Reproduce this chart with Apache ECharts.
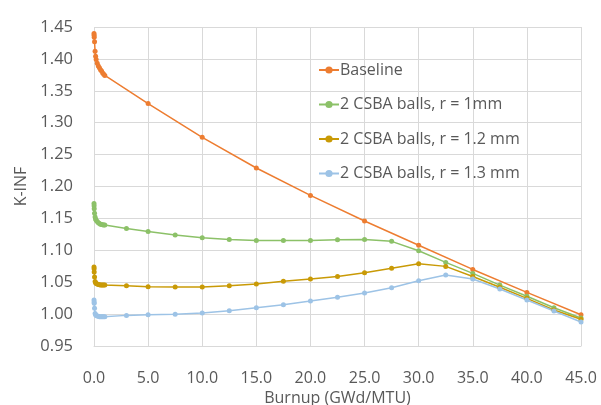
<!DOCTYPE html>
<html>
<head>
<meta charset="utf-8">
<script src="https://cdn.jsdelivr.net/npm/echarts@6/dist/echarts.min.js"></script>
<style>
  html, body { margin: 0; padding: 0; background: #fff; }
  #chart { width: 601px; height: 405px; }
</style>
</head>
<body>
<div id="chart"></div>
<script>
// burnup steps (GWd/MTU)
var earlyBurnup = [0, 0.01, 0.02, 0.05, 0.1, 0.15, 0.2, 0.3, 0.4, 0.5, 0.6, 0.7, 0.8, 0.9, 1.0]
var baseBurnup = [5, 10, 15, 20, 25, 30, 35, 40, 45]
var csbaBurnup = [3, 5, 7.5, 10, 12.5, 15, 17.5, 20, 22.5, 25, 27.5, 30, 32.5, 35, 37.5, 40, 42.5, 45]

// k-inf values
var baselineEarly = [1.440, 1.437, 1.434, 1.427, 1.412, 1.404, 1.399, 1.393, 1.389, 1.386, 1.383, 1.381, 1.378, 1.376, 1.374]
var baselineLate = [1.330, 1.277, 1.229, 1.186, 1.146, 1.108, 1.070, 1.034, 0.999]

var r10Early = [1.1735, 1.170, 1.165, 1.158, 1.152, 1.149, 1.147, 1.145, 1.143, 1.142, 1.141, 1.1405, 1.140, 1.1398, 1.1395]
var r10Late = [1.134, 1.1296, 1.1238, 1.1196, 1.1171, 1.1155, 1.1155, 1.1155, 1.1165, 1.1171, 1.114, 1.0992, 1.081, 1.0638, 1.0455, 1.028, 1.010, 0.994]

var r12Early = [1.074, 1.071, 1.066, 1.058, 1.051, 1.049, 1.048, 1.047, 1.0465, 1.046, 1.0458, 1.0457, 1.0456, 1.0455, 1.0455]
var r12Late = [1.0444, 1.0429, 1.0424, 1.0424, 1.0444, 1.047, 1.0513, 1.0549, 1.0591, 1.0648, 1.0717, 1.0789, 1.0748, 1.0590, 1.042, 1.0247, 1.0064, 0.9918]

var r13Early = [1.022, 1.019, 1.017, 1.009, 1.001, 0.999, 0.998, 0.997, 0.9965, 0.996, 0.996, 0.996, 0.996, 0.996, 0.996]
var r13Late = [0.998, 0.999, 0.9996, 1.0017, 1.0053, 1.010, 1.0147, 1.0205, 1.0265, 1.033, 1.0413, 1.0523, 1.0612, 1.055, 1.0393, 1.022, 1.0048, 0.9876]

var xTicks = ['0.0', '5.0', '10.0', '15.0', '20.0', '25.0', '30.0', '35.0', '40.0', '45.0']

function pairs(xs, ys) {
    var out = []
    for (var i = 0; i < xs.length; i++) out.push([xs[i], ys[i]])
    return out
}

var font = 'Open Sans, Liberation Sans, sans-serif'

function mkSeries(name, color, early, lateX, late) {
    return {
        name: name,
        type: 'line',
        symbol: 'circle',
        symbolSize: 5,
        showSymbol: true,
        animation: false,
        color: color,
        lineStyle: { width: 1.5, color: color },
        itemStyle: { color: color },
        data: pairs(earlyBurnup, early).concat(pairs(lateX, late))
    }
}

var myChart = echarts.init(document.getElementById('chart'))
var option = {
    animation: false,
    grid: { left: 94, right: 20, top: 27, bottom: 59, outerBoundsMode: 'none' },
    legend: {
        orient: 'vertical',
        left: 313,
        top: 54,
        itemGap: 12.5,
        itemWidth: 20,
        itemHeight: 9,
        textStyle: { fontFamily: font, fontSize: 16, color: '#595959', padding: [0, 0, 0, -4], lineHeight: 22 },
        data: ['Baseline', '2 CSBA balls, r = 1mm', '2 CSBA balls, r = 1.2 mm', '2 CSBA balls, r = 1.3 mm']
    },
    xAxis: {
        type: 'value',
        min: 0,
        max: 45,
        interval: 5,
        name: 'Burnup (GWd/MTU)',
        nameLocation: 'middle',
        nameGap: 43,
        nameTextStyle: { fontFamily: font, fontSize: 16, color: '#595959' },
        axisLine: { show: true, lineStyle: { color: '#d9d9d9' } },
        axisTick: { show: false },
        axisLabel: {
            fontFamily: font, fontSize: 16, color: '#595959', margin: 24,
            formatter: function (v) { return xTicks[Math.round(v / 5)] }
        },
        splitLine: { show: true, lineStyle: { color: '#d9d9d9' } }
    },
    yAxis: {
        type: 'value',
        min: 0.95,
        max: 1.45,
        interval: 0.05,
        name: 'K-INF',
        nameLocation: 'middle',
        nameGap: 64,
        nameRotate: 90,
        nameTextStyle: { fontFamily: font, fontSize: 16, color: '#595959' },
        axisLine: { show: false },
        axisTick: { show: false },
        axisLabel: {
            fontFamily: font, fontSize: 16.5, color: '#595959', margin: 21,
            formatter: function (v) { return v.toFixed(2) }
        },
        splitLine: { show: true, lineStyle: { color: '#d9d9d9' } }
    },
    series: [
        mkSeries('Baseline', '#ED7D31', baselineEarly, baseBurnup, baselineLate),
        mkSeries('2 CSBA balls, r = 1mm', '#8CC168', r10Early, csbaBurnup, r10Late),
        mkSeries('2 CSBA balls, r = 1.2 mm', '#C99A06', r12Early, csbaBurnup, r12Late),
        mkSeries('2 CSBA balls, r = 1.3 mm', '#9DC3E6', r13Early, csbaBurnup, r13Late)
    ]
}
myChart.setOption(option)
</script>
</body>
</html>
